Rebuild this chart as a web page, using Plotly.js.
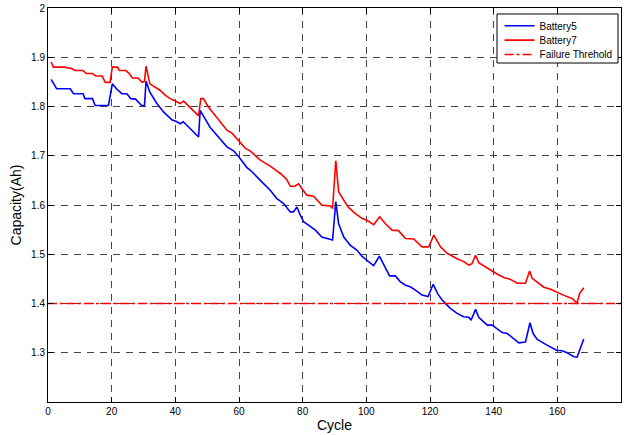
<!DOCTYPE html>
<html>
<head>
<meta charset="utf-8">
<script src="https://cdn.plot.ly/plotly-3.0.1.min.js"></script>
<style>html,body{margin:0;padding:0;background:#fff;}#chart{width:628px;height:435px;}</style>
</head>
<body>
<div id="chart"></div>
<script>
// Battery5 (blue) — cycle / capacity
var b5Cycle = [1,2.7,7,8,11,11.6,14,14.8,19,20.2,21.5,23.2,24.8,26,27.5,28,29.4,30.3,30.8,32,34.2,36.3,38.9,40.5,41.5,42.5,43.6,45.7,47.3,47.8,49.4,50.9,53,56.2,58.3,59.8,62.5,63.5,66.7,69.8,71.9,74,76.1,77.1,78.2,79,80.3,81.9,84,86,88.7,89.4,90.4,91.3,92.9,95,97.1,98.6,100.7,102.3,104.1,105.4,107.3,109.1,110.7,112.3,113.8,115.4,117.5,119.4,121,122.4,123.8,126.4,128.5,130.6,132.2,132.9,134.3,135.3,136.9,138,139.5,141.1,142.7,144.3,145.8,147.9,150,151.4,152.4,153.7,155.8,157.9,159.7,161.5,163.1,165.2,166.2,167,168.3];
var b5Cap = [1.855,1.836,1.836,1.826,1.826,1.816,1.816,1.802,1.802,1.846,1.836,1.826,1.826,1.816,1.815,1.812,1.802,1.802,1.851,1.829,1.806,1.789,1.773,1.769,1.765,1.769,1.762,1.748,1.738,1.792,1.775,1.758,1.742,1.718,1.710,1.699,1.676,1.671,1.650,1.630,1.613,1.603,1.586,1.586,1.596,1.583,1.566,1.559,1.549,1.535,1.530,1.529,1.607,1.562,1.535,1.518,1.508,1.496,1.485,1.477,1.496,1.481,1.456,1.456,1.444,1.437,1.434,1.427,1.417,1.414,1.439,1.420,1.407,1.390,1.380,1.373,1.372,1.366,1.388,1.372,1.363,1.356,1.356,1.349,1.341,1.339,1.331,1.320,1.322,1.361,1.339,1.327,1.319,1.312,1.305,1.304,1.300,1.292,1.291,1.305,1.328];

// Battery7 (red)
var b7Cycle = [1,1.7,5,7.4,8.5,11,12,14,15,17,18,19.5,20.2,21.9,22.4,24.5,25.5,26.5,28.3,29.5,30.3,30.8,32,35.2,36.8,38.4,40,41.5,42.6,43.6,45.2,47.3,48,48.8,50.4,52,54.1,56.2,57.8,59.8,62,63.5,66.7,69.8,73,75,76.1,77.5,78.7,79.8,81.3,83.4,84.5,86,88.7,89.4,90.4,91.3,92.9,94.4,96.5,98.6,100.2,102.3,104.2,106,108.1,110.1,112.3,114.9,117.5,119.6,121.2,123.3,125.4,127.5,128.5,130.6,132.2,133.2,134.3,135.3,137.4,139.5,141.1,143.2,145.3,147.4,150,151.3,152.1,154.2,155.8,157.9,160,162.6,164.7,166.2,167,168.3];
var b7Cap = [1.890,1.880,1.880,1.877,1.873,1.873,1.867,1.867,1.862,1.862,1.849,1.849,1.880,1.880,1.873,1.873,1.867,1.858,1.858,1.849,1.851,1.882,1.846,1.833,1.823,1.816,1.811,1.806,1.811,1.805,1.794,1.781,1.816,1.816,1.799,1.786,1.769,1.752,1.746,1.731,1.715,1.710,1.691,1.679,1.664,1.652,1.638,1.638,1.643,1.633,1.620,1.618,1.610,1.600,1.598,1.593,1.690,1.627,1.610,1.595,1.583,1.573,1.569,1.560,1.576,1.562,1.549,1.548,1.532,1.531,1.515,1.515,1.539,1.515,1.502,1.494,1.491,1.485,1.478,1.481,1.498,1.483,1.474,1.466,1.460,1.453,1.449,1.441,1.441,1.466,1.451,1.441,1.433,1.429,1.422,1.415,1.410,1.401,1.420,1.432];

// Failure threshold
var thrCycle = [0, 180];
var thrCap = [1.4, 1.4];

var seriesNames = ['Battery5', 'Battery7', 'Failure Threhold'];
var xTicks = [0,20,40,60,80,100,120,140,160,180];
var yTicks = [1.3,1.4,1.5,1.6,1.7,1.8,1.9,2];
var yTickText = ['1.3','1.4','1.5','1.6','1.7','1.8','1.9','2'];

var FONT = 'Liberation Sans, Arial, sans-serif';

var traces = [
  {x: b5Cycle, y: b5Cap, type: 'scatter', mode: 'lines', name: seriesNames[0], legend: 'legend',
   line: {color: '#0000ff', width: 1.6}},
  {x: b7Cycle, y: b7Cap, type: 'scatter', mode: 'lines', name: seriesNames[1], legend: 'legend2',
   line: {color: '#ff0000', width: 1.6}},
  {x: thrCycle, y: thrCap, type: 'scatter', mode: 'lines', name: seriesNames[2], legend: 'legend3',
   line: {color: '#ff0000', width: 1.5, dash: 'dashdot'}}
];

var axisCommon = {
  showline: true, linecolor: '#000', linewidth: 1, mirror: 'ticks',
  ticks: 'inside', ticklen: 5, tickcolor: '#000',
  showgrid: true, gridcolor: '#444', gridwidth: 1, griddash: '7px,6px',
  zeroline: false,
  tickfont: {family: FONT, size: 10, color: '#000'}
};

function legendAt(yCenter) {
  return {x: 0.788, y: yCenter, xanchor: 'left', yanchor: 'middle',
          bgcolor: 'rgba(0,0,0,0)', borderwidth: 0,
          font: {family: FONT, size: 10, color: '#000'}, itemwidth: 30};
}

var layout = {
  width: 628, height: 435,
  margin: {l: 48, r: 7, t: 8, b: 33},
  paper_bgcolor: '#fff', plot_bgcolor: '#fff',
  showlegend: true,
  legend: legendAt(0.955),
  legend2: legendAt(0.9185),
  legend3: legendAt(0.882),
  shapes: [{type: 'rect', xref: 'paper', yref: 'paper', x0: 0.7836, x1: 0.9948, y0: 0.8604, y1: 0.9848,
            fillcolor: '#fff', line: {color: '#000', width: 1}, layer: 'above'}],
  xaxis: Object.assign({}, axisCommon, {
    range: [0, 180], tickvals: xTicks,
    title: {text: 'Cycle', standoff: 4, font: {family: FONT, size: 14, color: '#000'}}
  }),
  yaxis: Object.assign({}, axisCommon, {
    range: [1.2, 2], tickvals: yTicks, ticktext: yTickText,
    title: {text: 'Capacity(Ah)', standoff: 6, font: {family: FONT, size: 14, color: '#000'}}
  })
};

Plotly.newPlot('chart', traces, layout, {displayModeBar: false, staticPlot: true});
</script>
</body>
</html>
